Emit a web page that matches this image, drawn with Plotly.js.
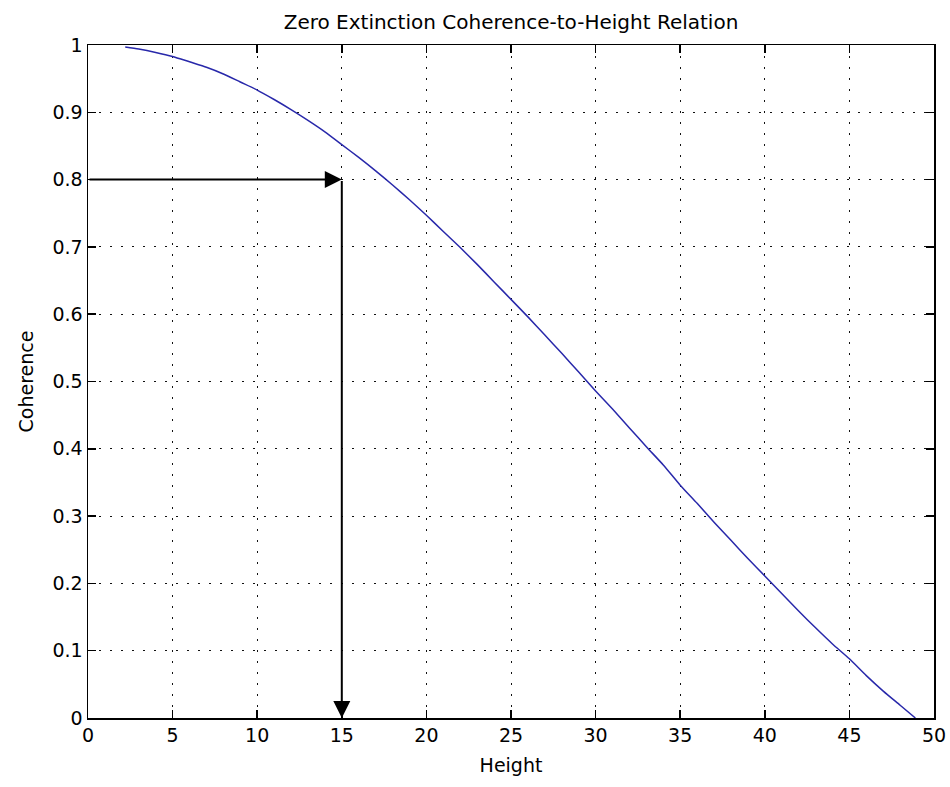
<!DOCTYPE html>
<html>
<head>
<meta charset="utf-8">
<script src="https://cdn.plot.ly/plotly-3.0.1.min.js"></script>
<style>
html,body{margin:0;padding:0;background:#fff;}
#chart{width:950px;height:787px;}
</style>
</head>
<body>
<div id="chart"></div>
<script>
// Data
var heights = [2.2, 3, 4, 5, 6, 7, 8, 9, 10, 11, 12, 13, 14, 15, 16, 17, 18, 19, 20,
               21, 22, 23, 24, 25, 26, 27, 28, 29, 30, 31, 32, 33, 34, 35, 36, 37, 38,
               39, 40, 41, 42, 43, 44, 45, 46, 47, 48, 48.9];
var coherence = [0.997, 0.994, 0.989, 0.983, 0.975, 0.967, 0.957, 0.945, 0.933, 0.919,
                 0.904, 0.888, 0.871, 0.852, 0.833, 0.813, 0.792, 0.770, 0.747, 0.723,
                 0.699, 0.674, 0.648, 0.622, 0.596, 0.569, 0.542, 0.514, 0.486, 0.459,
                 0.431, 0.403, 0.376, 0.346, 0.319, 0.291, 0.264, 0.237, 0.211, 0.185,
                 0.159, 0.134, 0.110, 0.088, 0.063, 0.040, 0.019, 0.000];
var xTicks = [0, 5, 10, 15, 20, 25, 30, 35, 40, 45, 50];
var yTicks = [0, 0.1, 0.2, 0.3, 0.4, 0.5, 0.6, 0.7, 0.8, 0.9, 1];
var yTickLabels = ["0", "0.1", "0.2", "0.3", "0.4", "0.5", "0.6", "0.7", "0.8", "0.9", "1"];
var arrowHeight = 15;
var arrowCoherence = 0.8;
var arrowStartHeight = 0;
var arrowEndCoherence = 0;

var FONT = "DejaVu Sans, Arial, sans-serif";

var trace = {
  x: heights,
  y: coherence,
  type: "scatter",
  mode: "lines",
  line: {color: "#2828aa", width: 1.5, shape: "spline", smoothing: 0.6},
  hoverinfo: "skip",
  showlegend: false
};

var axisCommon = {
  showline: true,
  linecolor: "#000",
  linewidth: 1.5,
  mirror: "ticks",
  ticks: "inside",
  ticklen: 8,
  tickwidth: 1.5,
  tickcolor: "#000",
  showgrid: true,
  gridcolor: "#111",
  gridwidth: 1,
  griddash: "2px,9px",
  zeroline: false,
  tickfont: {family: FONT, size: 19, color: "#000"},
  fixedrange: true
};

var layout = {
  width: 950,
  height: 787,
  paper_bgcolor: "#fff",
  plot_bgcolor: "#fff",
  margin: {l: 88, r: 16, t: 45, b: 69},
  font: {family: FONT, color: "#000"},
  title: {
    text: "Zero Extinction Coherence-to-Height Relation",
    font: {family: FONT, size: 20, color: "#000"},
    x: 0.5, xref: "paper",
    y: 0.972, yref: "container", yanchor: "middle"
  },
  xaxis: Object.assign({}, axisCommon, {
    range: [0, 50],
    tickmode: "array",
    tickvals: xTicks,
    ticktext: xTicks.map(String),
    title: {text: "Height", font: {family: FONT, size: 19, color: "#000"}, standoff: 13}
  }),
  yaxis: Object.assign({}, axisCommon, {
    range: [0, 1],
    tickmode: "array",
    tickvals: yTicks,
    ticktext: yTickLabels,
    title: {text: "Coherence", font: {family: FONT, size: 19, color: "#000"}, standoff: 14}
  }),
  annotations: [
    {
      x: arrowHeight, y: arrowCoherence, xref: "x", yref: "y",
      ax: arrowStartHeight, ay: arrowCoherence, axref: "x", ayref: "y",
      text: "", showarrow: true,
      arrowhead: 2, arrowsize: 1.7, arrowwidth: 2, arrowcolor: "#000"
    },
    {
      x: arrowHeight, y: arrowEndCoherence, xref: "x", yref: "y",
      ax: arrowHeight, ay: arrowCoherence, axref: "x", ayref: "y",
      text: "", showarrow: true,
      arrowhead: 2, arrowsize: 1.7, arrowwidth: 2, arrowcolor: "#000"
    }
  ]
};

Plotly.newPlot("chart", [trace], layout, {displayModeBar: false, staticPlot: true});
</script>
</body>
</html>
